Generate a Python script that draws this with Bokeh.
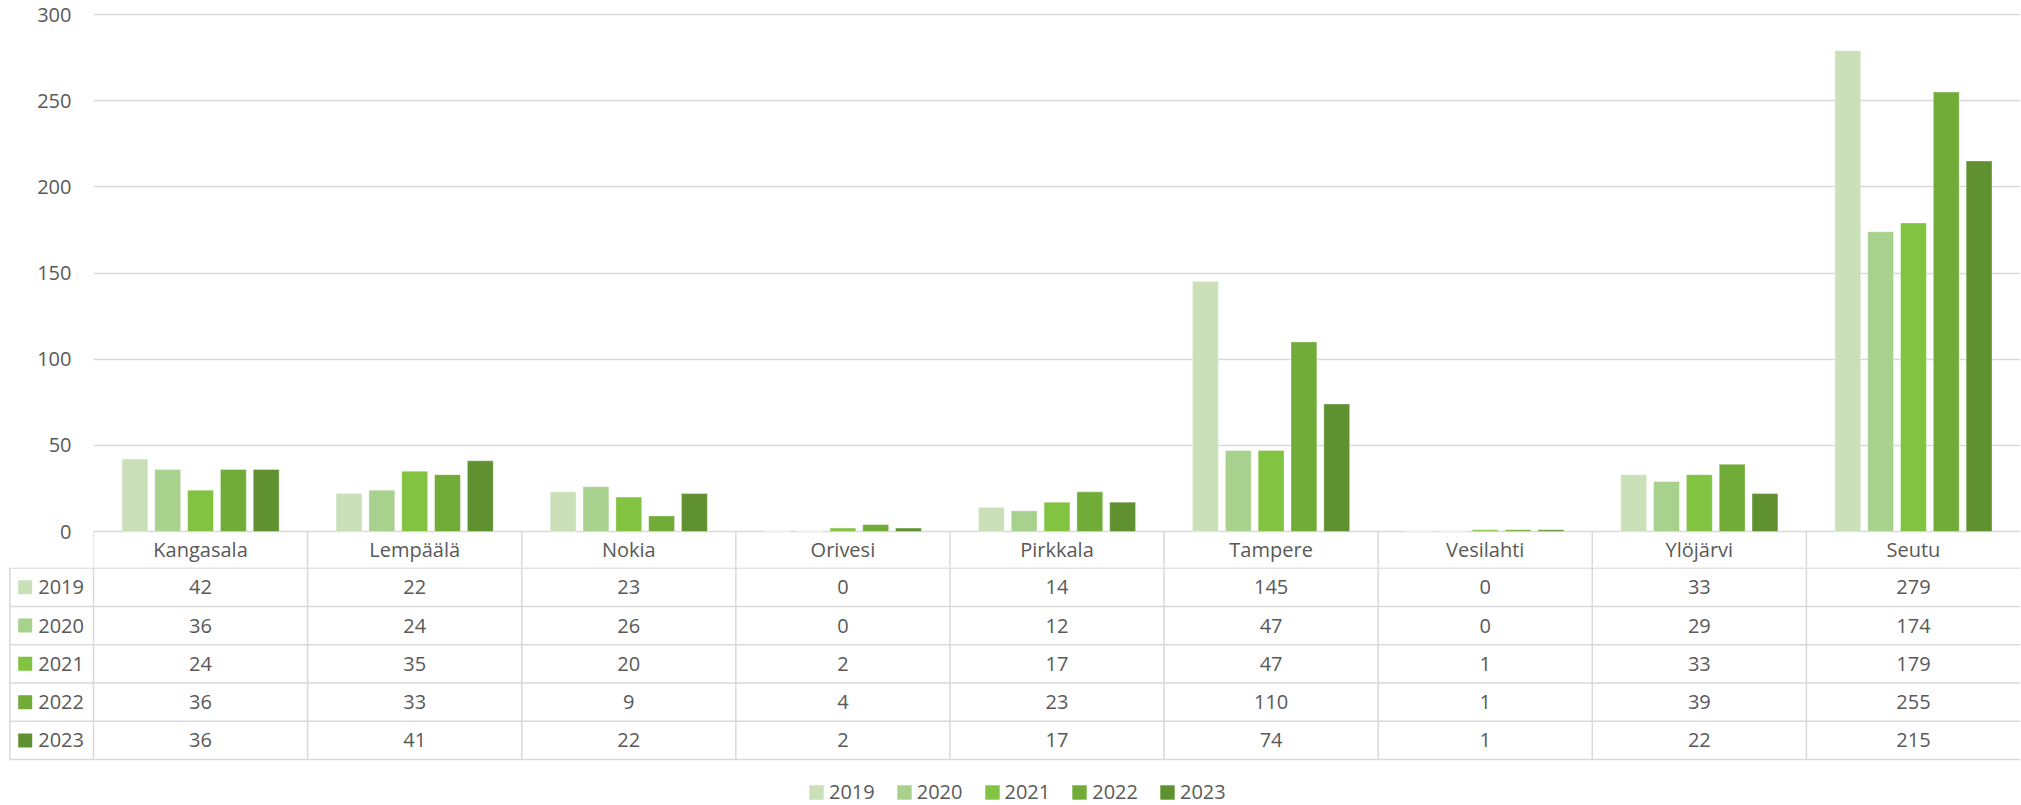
from bokeh.plotting import figure
from bokeh.models import Range1d, FactorRange, Legend, LegendItem, ColumnDataSource
from bokeh.transform import dodge
from bokeh.layouts import column
from bokeh.core.properties import value
from bokeh.embed import file_html
from bokeh.resources import INLINE

# ---------------- data ----------------
categories = ["Kangasala", "Lempäälä", "Nokia", "Orivesi", "Pirkkala",
              "Tampere", "Vesilahti", "Ylöjärvi", "Seutu"]
years = ["2019", "2020", "2021", "2022", "2023"]
v2019 = [42, 22, 23, 0, 14, 145, 0, 33, 279]
v2020 = [36, 24, 26, 0, 12, 47, 0, 29, 174]
v2021 = [24, 35, 20, 2, 17, 47, 1, 33, 179]
v2022 = [36, 33, 9, 4, 23, 110, 1, 39, 255]
v2023 = [36, 41, 22, 2, 17, 74, 1, 22, 215]
series = [v2019, v2020, v2021, v2022, v2023]
colors = ["#C9E0B9", "#A9D18E", "#82C341", "#71AC38", "#5F9130"]
y_ticks = [0, 50, 100, 150, 200, 250, 300]

# ---------------- styles ----------------
FONT = "Open Sans"
TXT = "#595959"
GRID = "#D9D9D9"
FS = "20px"

W = 2020
H = 804
LEFT = 93
ncat = len(categories)
cat_px = (W - LEFT) / ncat
pitch = 33 / 215.3
bw = 26 / 215.3

# chart figure geometry (pixels)
CH = 567           # chart figure height (includes header row)
TOP = 2            # frame top border
Y300 = 14          # pixel row of 300 line
Y0 = 531           # pixel row of 0 line
kpx = (Y0 - Y300) / 300.0
y_end = 300 + (Y300 - TOP) / kpx
y_start = -(CH - Y0) / kpx

# ---------------- chart ----------------
p1 = figure(width=W, height=CH, x_range=FactorRange(factors=categories),
            y_range=Range1d(y_start, y_end),
            x_axis_location=None, output_backend="svg", toolbar_location=None,
            min_border_left=LEFT, min_border_right=0, min_border_top=TOP,
            min_border_bottom=0, frame_align=False)
p1.outline_line_color = None
p1.xgrid.visible = False
p1.ygrid.grid_line_color = GRID
p1.ygrid.grid_line_width = 1.5
p1.yaxis.ticker = y_ticks
p1.yaxis.axis_line_color = None
p1.yaxis.major_tick_line_color = None
p1.yaxis.minor_tick_line_color = None
p1.yaxis.major_tick_out = 0
p1.yaxis.major_label_standoff = 22
p1.yaxis.major_label_text_font = FONT
p1.yaxis.major_label_text_font_size = FS
p1.yaxis.major_label_text_color = TXT

src = ColumnDataSource(dict(cat=categories, **{y: s for y, s in zip(years, series)}))
for k, yr in enumerate(years):
    p1.vbar(x=dodge("cat", (k - 2) * pitch, range=p1.x_range), top=yr, width=bw,
            source=src, fill_color=colors[k], line_color="white", line_alpha=0.35,
            line_width=1)

# header row of the data table (inside chart figure, below zero)
p1.segment(x0=dodge("cat", -0.5, range=p1.x_range), y0=0,
           x1=dodge("cat", -0.5, range=p1.x_range), y1=y_start,
           source=src, line_color=GRID, line_width=1.5)
p1.text(x="cat", y=-(549.2 - Y0) / kpx, text="cat", source=src,
        text_align="center", text_baseline="middle", text_font=value(FONT),
        text_font_size=FS, text_color=TXT)

# ---------------- table ----------------
TH = H - CH
x0 = -LEFT / cat_px
px = 1 / cat_px
p2 = figure(width=W, height=TH, x_range=Range1d(x0, ncat), y_range=Range1d(TH, 0),
            x_axis_location=None, y_axis_location=None, output_backend="svg",
            toolbar_location=None, min_border=0, frame_align=False)
p2.outline_line_color = None
p2.grid.visible = False

row_h = 38.3
first = 0.6
row_edges = [first + row_h * k for k in range(len(years) + 1)]
left_x = x0 + 9.3 * px

sx0, sy0, sx1, sy1 = [], [], [], []
for e in row_edges:
    sx0.append(left_x); sx1.append(ncat); sy0.append(e); sy1.append(e)
sx0.append(left_x); sx1.append(left_x); sy0.append(first); sy1.append(row_edges[-1])
for i in range(ncat):
    sx0.append(i); sx1.append(i); sy0.append(0); sy1.append(row_edges[-1])
p2.segment(x0=sx0, y0=sy0, x1=sx1, y1=sy1, line_color=GRID, line_width=1.5)

centers = [i + 0.5 for i in range(ncat)]
rect_renderers = []
for k, yr in enumerate(years):
    yc = first + row_h * (k + 0.5)
    p2.text(x=centers, y=[yc] * ncat, text=[str(v) for v in series[k]],
            text_align="center", text_baseline="middle", text_font=value(FONT),
            text_font_size=FS, text_color=TXT)
    r = p2.rect(x=[x0 + 24.7 * px], y=[yc], width=14, height=14,
                width_units="screen", height_units="screen",
                fill_color=colors[k], line_color=None)
    rect_renderers.append(r)
    p2.text(x=[x0 + 37.7 * px], y=[yc], text=[yr], text_align="left",
            text_baseline="middle", text_font=value(FONT), text_font_size=FS,
            text_color=TXT)

legend = Legend(items=[LegendItem(label=yr, renderers=[r])
                       for yr, r in zip(years, rect_renderers)],
                orientation="horizontal", location=(807, -1),
                glyph_width=18, glyph_height=18, label_standoff=4, spacing=20,
                padding=0, margin=0, border_line_color=None,
                background_fill_alpha=0, label_text_font=FONT,
                label_text_font_size=FS, label_text_color=TXT)
p2.add_layout(legend)

layout = column(p1, p2, spacing=0)
open("out.html", "w").write(file_html(layout, INLINE))
